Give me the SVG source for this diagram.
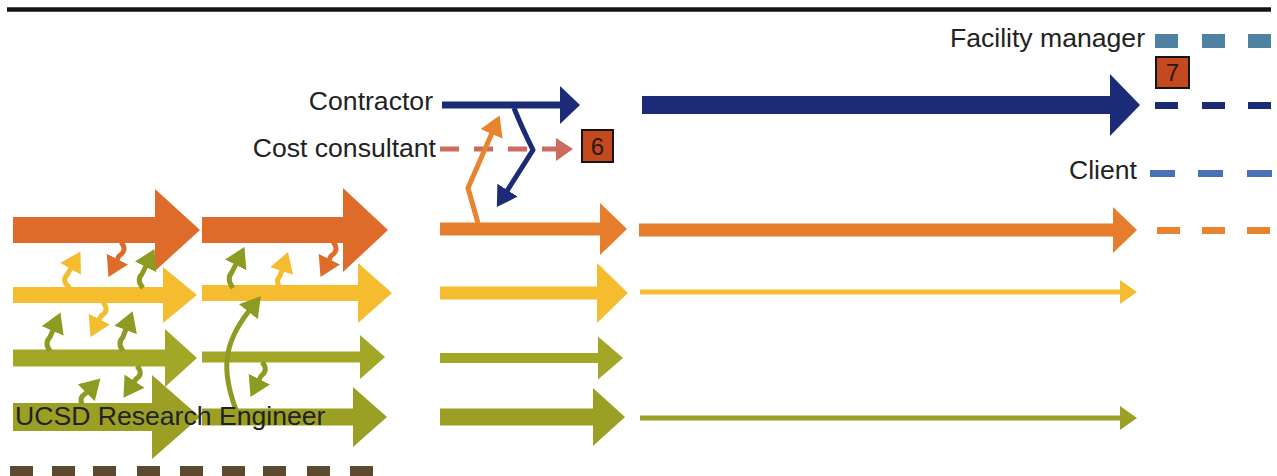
<svg xmlns="http://www.w3.org/2000/svg" width="1277" height="476" viewBox="0 0 1277 476">
<style>
.lbl{font-family:"Liberation Sans",Arial,sans-serif;font-size:26.6px;fill:#222}
.num{font-family:"Liberation Sans",Arial,sans-serif;font-size:24px;fill:#2a1a10;text-anchor:middle}
.or{fill:#DF6B2B}.or2{fill:#E67D2D}.ye{fill:#F5BC2F}.gr{fill:#A3A727}.gr4{fill:#9BA024}.nv{fill:#1B2B78}
.box{fill:#C4491E;stroke:#151515;stroke-width:2}
.sq{fill:none;stroke-width:5;stroke-linejoin:round;stroke-linecap:butt}
.sqo{stroke:#DF6B2B}.sqo2{stroke:#E8832E}.sqy{stroke:#F5BC2F}.sqg{stroke:#8E9B22}.sqn{stroke:#1B2B78}
</style>
<defs>
<marker id="mo" markerUnits="userSpaceOnUse" markerWidth="22" markerHeight="26" refX="1" refY="12" orient="auto" viewBox="0 0 22 26"><path d="M0,0 L20,12 L0,24 z" fill="#DF6B2B"/></marker>
<marker id="mo2" markerUnits="userSpaceOnUse" markerWidth="22" markerHeight="26" refX="1" refY="12" orient="auto" viewBox="0 0 22 26"><path d="M0,0 L20,12 L0,24 z" fill="#E8832E"/></marker>
<marker id="my" markerUnits="userSpaceOnUse" markerWidth="22" markerHeight="26" refX="1" refY="12" orient="auto" viewBox="0 0 22 26"><path d="M0,0 L20,12 L0,24 z" fill="#F5BC2F"/></marker>
<marker id="mg" markerUnits="userSpaceOnUse" markerWidth="22" markerHeight="26" refX="1" refY="12" orient="auto" viewBox="0 0 22 26"><path d="M0,0 L20,12 L0,24 z" fill="#8E9B22"/></marker>
<marker id="mn" markerUnits="userSpaceOnUse" markerWidth="22" markerHeight="26" refX="1" refY="12" orient="auto" viewBox="0 0 22 26"><path d="M0,0 L20,12 L0,24 z" fill="#1B2B78"/></marker>
</defs>
<rect width="1277" height="476" fill="#fff"/>
<line x1="7" y1="9.5" x2="1271" y2="9.5" stroke="#141414" stroke-width="4.5"/>

<g id="facility-manager">
<text class="lbl" x="1145" y="47" text-anchor="end">Facility manager</text>
<g fill="#4F81A0"><rect x="1155" y="34" width="23" height="14"/><rect x="1202" y="34" width="23" height="14"/><rect x="1248" y="34" width="23" height="14"/></g>
</g>
<g id="step-7">
<rect class="box" x="1156" y="57" width="33" height="31"/>
<text class="num" x="1172.5" y="81">7</text>
</g>
<g id="contractor">
<text class="lbl" x="433" y="110" text-anchor="end">Contractor</text>
<polygon class="nv" points="442,101.5 560,101.5 560,86 580,105 560,124 560,108.5 442,108.5"/>
<polygon class="nv" points="642,96 1110,96 1110,74 1140,105 1110,136 1110,114 642,114"/>
<g fill="#1B2B78"><rect x="1155" y="102" width="23" height="7"/><rect x="1202" y="102" width="23" height="7"/><rect x="1248" y="102" width="23" height="7"/></g>
</g>
<g id="cost-consultant">
<text class="lbl" x="436" y="157" text-anchor="end">Cost consultant</text>
<line x1="440" y1="149" x2="557" y2="149" stroke="#CD6A5E" stroke-width="5" stroke-dasharray="19 15"/>
<polygon points="556,138 573,149 556,161" fill="#CD6A5E"/>
</g>
<g id="step-6">
<rect class="box" x="582" y="130" width="31" height="32"/>
<text class="num" x="597.5" y="155">6</text>
</g>
<g id="client">
<text class="lbl" x="1137" y="179" text-anchor="end">Client</text>
<g fill="#4A70B5"><rect x="1150" y="170" width="25" height="7"/><rect x="1198" y="170" width="25" height="7"/><rect x="1247" y="170" width="25" height="7"/></g>
</g>

<g id="row-orange">
<polygon class="or" points="13,217 155,217 155,189 200,230 155,271 155,243 13,243"/>
<polygon class="or" points="202,217 343,217 343,188 388,230 343,272 343,243 202,243"/>
<polygon class="or2" points="440,222.5 600,222.5 600,203 627,229 600,255 600,235.5 440,235.5"/>
<polygon class="or2" points="639,223.5 1113,223.5 1113,207 1137,230 1113,253 1113,236.5 639,236.5"/>
<g fill="#E8842E"><rect x="1157" y="227" width="23" height="7"/><rect x="1202" y="227" width="23" height="7"/><rect x="1247" y="227" width="23" height="7"/></g>
</g>
<g id="row-yellow">
<polygon class="ye" points="13,287 163,287 163,267 197,295 163,323 163,303 13,303"/>
<polygon class="ye" points="202,285 358,285 358,263 392,293 358,323 358,301 202,301"/>
<polygon class="ye" points="440,286.5 597,286.5 597,263 628,293 597,323 597,299.5 440,299.5"/>
<polygon class="ye" points="640,289.5 1120,289.5 1120,280 1137,292 1120,304 1120,294.5 640,294.5"/>
</g>
<g id="row-green">
<polygon class="gr" points="13,349.5 165,349.5 165,329 197,358 165,387 165,366.5 13,366.5"/>
<polygon class="gr" points="202,351.5 360,351.5 360,335 385,357 360,379 360,362.5 202,362.5"/>
<polygon class="gr" points="440,353 598,353 598,336.5 623,358 598,379.5 598,363 440,363"/>
</g>
<g id="ucsd-research-engineer">
<polygon class="gr4" points="13,403 152,403 152,375 200,417 152,459 152,431 13,431"/>
<polygon class="gr4" points="202,408.5 353,408.5 353,387 387,417 353,447 353,425.5 202,425.5"/>
<polygon class="gr4" points="440,408.5 593,408.5 593,388 625,417 593,446 593,425.5 440,425.5"/>
<polygon class="gr4" points="640,415.5 1120,415.5 1120,406 1137,418 1120,430 1120,420.5 640,420.5"/>
</g>
<g id="bottom-dashes" fill="#5C4A30">
<rect x="10" y="466" width="23" height="12"/><rect x="52" y="466" width="23" height="12"/><rect x="93" y="466" width="23" height="12"/><rect x="137" y="466" width="23" height="12"/><rect x="180" y="466" width="23" height="12"/><rect x="222" y="466" width="23" height="12"/><rect x="263" y="466" width="23" height="12"/><rect x="307" y="466" width="23" height="12"/><rect x="350" y="466" width="23" height="12"/>
</g>

<g id="connectors">
<path class="sq sqy" d="M70 288 Q61 281 67 275 L71 268" marker-end="url(#my)"/>
<path class="sq sqo" d="M121 242 Q128 250 119 256 L117 260" marker-end="url(#mo)"/>
<path class="sq sqg" d="M143 288 Q136 280 142 274 L146 266" marker-end="url(#mg)"/>
<path class="sq sqg" d="M50 351 Q44 343 50 337 L53 330" marker-end="url(#mg)"/>
<path class="sq sqy" d="M103 302 Q110 311 101 316 L99 320" marker-end="url(#my)"/>
<path class="sq sqg" d="M123 351 Q117 343 123 337 L126 329" marker-end="url(#mg)"/>
<path class="sq sqg" d="M82 404 Q79 397 85 394 L87 392" marker-end="url(#mg)"/>
<path class="sq sqg" d="M137 366 Q144 374 136 379 L134 382" marker-end="url(#mg)"/>
<path class="sq sqg" d="M233 288 Q226 279 232 272 L236 264" marker-end="url(#mg)"/>
<path class="sq sqy" d="M280 288 Q275 281 280 276 L282 270" marker-end="url(#my)"/>
<path class="sq sqo" d="M333 242 Q340 250 331 256 L329 260" marker-end="url(#mo)"/>
<path class="sq sqg" d="M262 362 Q269 370 261 376 L259 380" marker-end="url(#mg)"/>
<path class="sq sqg" d="M236 410 C222 372 222 345 249 311" marker-end="url(#mg)"/>
<path class="sq sqn" d="M514 108 Q522 128 533 150 L507 191" marker-end="url(#mn)"/>
<path class="sq sqo2" d="M478 223 L468 188 L492 133" marker-end="url(#mo2)"/>
</g>
<text class="lbl" x="15" y="425">UCSD Research Engineer</text>
</svg>
